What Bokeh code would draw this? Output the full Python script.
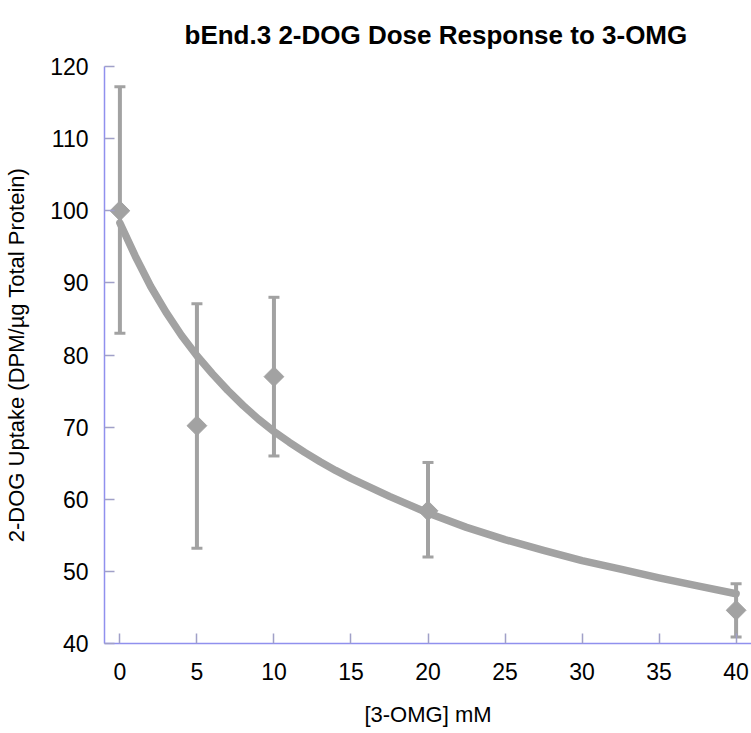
import numpy as np
from bokeh.plotting import figure
from bokeh.models import ColumnDataSource, Whisker, TeeHead, Range1d, FixedTicker
from bokeh.embed import file_html
from bokeh.resources import INLINE

# --- data ---
conc_mM = [0, 5, 10, 20, 40]
uptake = [100.0, 70.2, 77.0, 58.4, 44.6]
err_upper = [117.2, 87.1, 88.0, 65.1, 48.3]
err_lower = [83.0, 53.2, 66.0, 52.0, 40.9]

# fitted curve
fit_x = [0, 1, 2, 3, 4, 5, 6, 7, 8, 9, 10, 11, 12, 13, 14, 15,
         17.5, 20, 22.5, 25, 27.5, 30, 32.5, 35, 37.5, 40]
fit_y = [98.3, 93.7, 89.5, 85.9, 82.7, 79.9, 77.4, 75.1, 73.0, 71.1, 69.4, 67.9, 66.5,
         65.2, 64.0, 62.9, 60.4, 58.1, 56.1, 54.4, 52.9, 51.5, 50.3, 49.1, 48.0, 46.9]

x_ticks = [0, 5, 10, 15, 20, 25, 30, 35, 40]
y_ticks = [40, 50, 60, 70, 80, 90, 100, 110, 120]

GRAY = "#a2a2a2"
AXIS = "#9090ee"
TICK = "#a0a0c8"
FONT = "Liberation Sans"

p = figure(width=751, height=733, output_backend="svg", toolbar_location=None,
           x_range=Range1d(-1, 41), y_range=Range1d(40, 120),
           min_border_left=104, min_border_right=0, min_border_top=65, min_border_bottom=90,
           title="bEnd.3 2-DOG Dose Response to 3-OMG")
p.outline_line_color = None
p.background_fill_color = "white"
p.border_fill_color = "white"
p.xgrid.visible = False
p.ygrid.visible = False

p.title.text_font = FONT
p.title.text_font_size = "26px"
p.title.text_font_style = "bold"
p.title.text_color = "#000000"
p.title.align = "left"
p.title.offset = 80
p.title.standoff = 34

src = ColumnDataSource(dict(x=conc_mM, y=uptake, upper=err_upper, lower=err_lower))
fit_src = ColumnDataSource(dict(x=fit_x, y=fit_y))

w = Whisker(source=src, base="x", upper="upper", lower="lower",
            line_color=GRAY, line_width=4, level="underlay",
            upper_head=TeeHead(size=11, line_width=3, line_color=GRAY),
            lower_head=TeeHead(size=11, line_width=3, line_color=GRAY))
p.add_layout(w)

p.line("x", "y", source=fit_src, line_color=GRAY, line_width=7.5, line_join="round", line_cap="round")
p.scatter("x", "y", source=src, marker="square", angle=np.pi / 4, size=14,
          fill_color=GRAY, line_color=GRAY)

for ax, ticks in ((p.xaxis, x_ticks), (p.yaxis, y_ticks)):
    ax.ticker = FixedTicker(ticks=ticks)
    ax.axis_line_color = AXIS
    ax.axis_line_width = 1.5
    ax.major_tick_line_color = TICK
    ax.major_tick_line_width = 1.5
    ax.major_tick_in = 10
    ax.major_tick_out = 0
    ax.minor_tick_line_color = None
    ax.major_label_text_font = FONT
    ax.major_label_text_font_size = "23px"
    ax.major_label_text_color = "#000000"
    ax.axis_label_text_font = FONT
    ax.axis_label_text_font_size = "22px"
    ax.axis_label_text_font_style = "normal"
    ax.axis_label_text_color = "#000000"

p.xaxis.axis_label = "[3-OMG] mM"
p.yaxis.axis_label = "2-DOG Uptake (DPM/µg Total Protein)"
p.xaxis.major_label_standoff = 19
p.yaxis.major_label_standoff = 16
p.xaxis.axis_label_standoff = 19
p.yaxis.axis_label_standoff = 18

open("out.html", "w").write(file_html(p, INLINE))
